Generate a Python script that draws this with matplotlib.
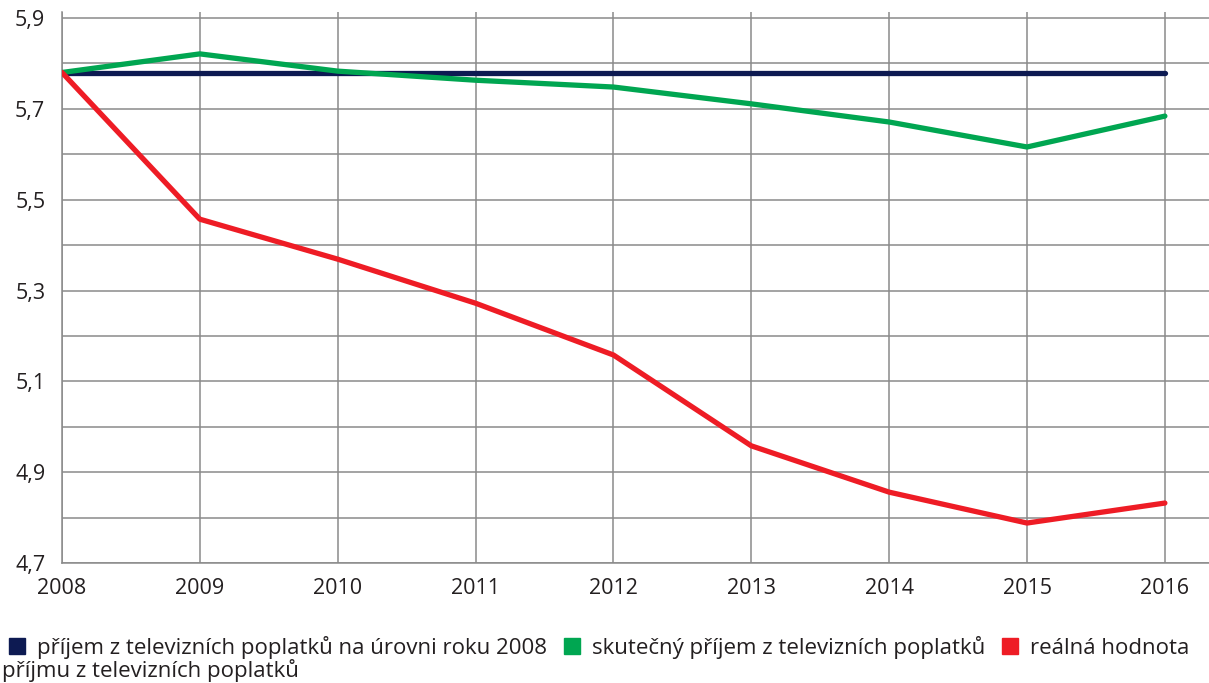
import matplotlib
matplotlib.use("Agg")
import matplotlib.pyplot as plt
from matplotlib.lines import Line2D

plt.rcParams['font.family'] = ['Open Sans', 'DejaVu Sans']

years = [2008, 2009, 2010, 2011, 2012, 2013, 2014, 2015, 2016]
level_2008 = [5.78, 5.78, 5.78, 5.78, 5.78, 5.78, 5.78, 5.78, 5.78]
actual = [5.78, 5.821, 5.783, 5.763, 5.748, 5.711, 5.671, 5.616, 5.684]
real = [5.78, 5.457, 5.369, 5.272, 5.158, 4.958, 4.856, 4.788, 4.832]

labels = ["příjem z televizních poplatků na úrovni roku 2008",
          "skutečný příjem z televizních poplatků",
          "reálná hodnota"]
label_cont = "příjmu z televizních poplatků"
colors = ["#0d1a52", "#00a651", "#ee1c25"]

yticks_grid = [4.7, 4.8, 4.9, 5.0, 5.1, 5.2, 5.3, 5.4, 5.5, 5.6, 5.7, 5.8, 5.9]

fig = plt.figure(figsize=(12.09, 6.83), dpi=100)
ax = fig.add_axes([62/1209, 1 - 563/683, 1 - 62/1209, (563 - 12)/683])

for s, c in zip([level_2008, actual, real], colors):
    ax.plot(years, s, color=c, lw=3.8, solid_capstyle='round', solid_joinstyle='round', zorder=3)

ax.set_xlim(2008, 2016.32)
ax.set_ylim(4.7, 5.9 + 6/454)
ax.set_xticks(years)
ax.set_xticklabels([str(y) for y in years], fontsize=15.5, color="#231f20")
ax.set_yticks(yticks_grid)
ax.set_yticklabels([f"{v:.1f}".replace('.', ',') if round(v*10) % 2 == 1 else "" for v in yticks_grid],
                   fontsize=15.5, color="#231f20")
ax.tick_params(length=0)
ax.tick_params(axis='y', pad=12)
ax.tick_params(axis='x', pad=11)
ax.grid(True, color="#8a8a8a", lw=1.1)
ax.set_axisbelow(True)
for side in ['top', 'right']:
    ax.spines[side].set_visible(False)
for side in ['left', 'bottom']:
    ax.spines[side].set_color("#8a8a8a")
    ax.spines[side].set_linewidth(1.1)

handles = [Line2D([], [], marker='s', ls='none', markersize=11.5, color=c) for c in colors]
leg = fig.legend(handles, labels, loc='upper left', bbox_to_anchor=(6/1209, 1 - 634/683),
                 ncol=3, frameon=False, fontsize=16, handlelength=0.8, handletextpad=0.5,
                 columnspacing=0.72, borderaxespad=0, borderpad=0.1)
for t in leg.get_texts():
    t.set_color("#231f20")
fig.text(2/1209, 1 - 670/683, label_cont, fontsize=16, color="#231f20", va='center', ha='left')

fig.savefig("out.png", dpi=100)
